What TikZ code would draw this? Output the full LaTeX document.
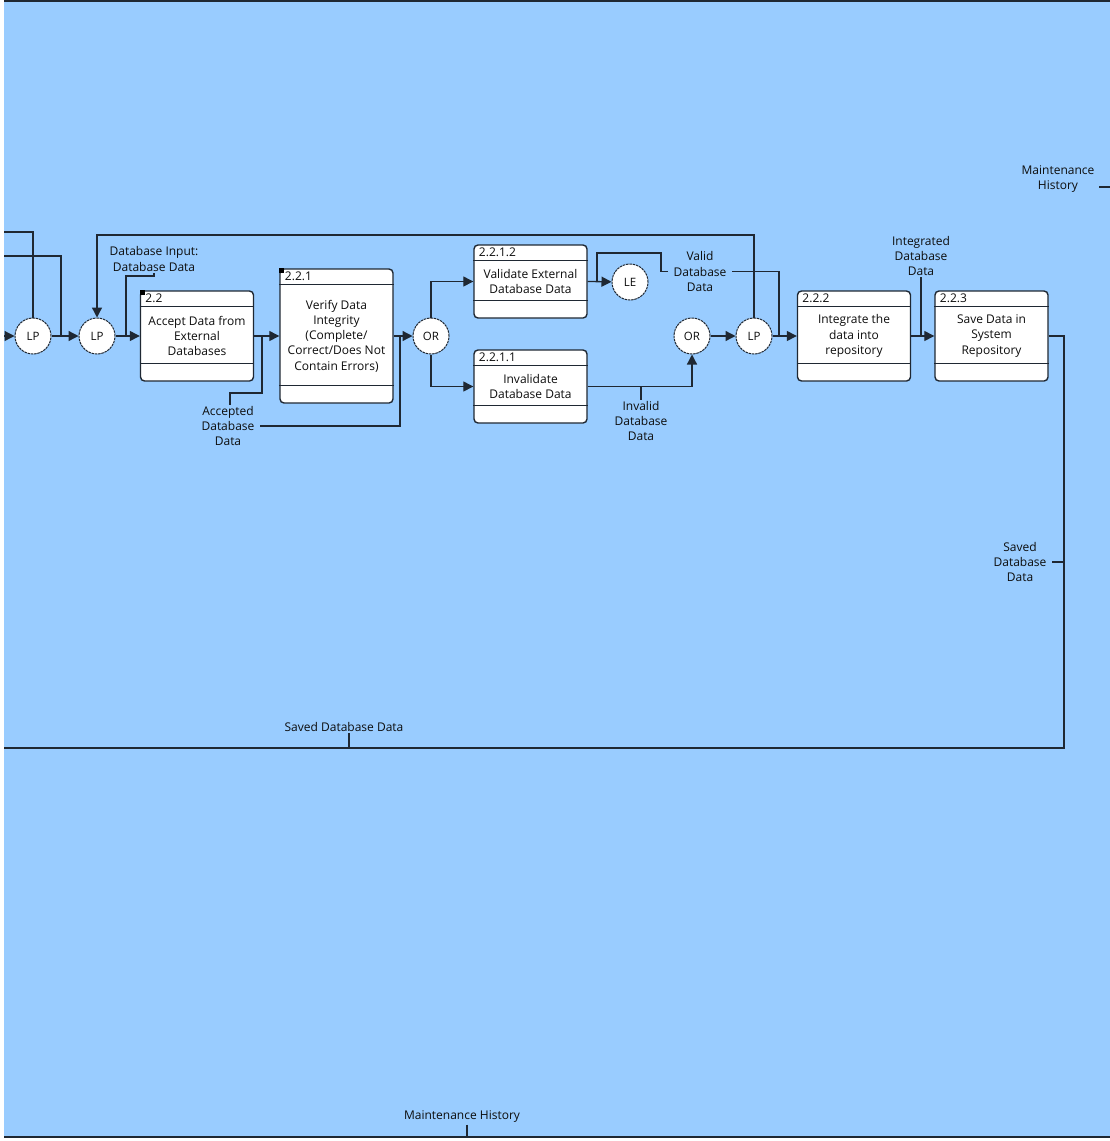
\documentclass[tikz,border=0pt]{standalone}
\usepackage{fontspec}
\setmainfont{Open Sans}
\usetikzlibrary{arrows.meta, positioning}
\definecolor{cbg}{HTML}{99CCFF}
\definecolor{cline}{HTML}{1F2833}
\definecolor{ctext}{HTML}{0D0D0D}
\tikzset{
  every picture/.style={font=\fontsize{12}{15.2}\selectfont, line width=1.3pt},
  proc/.style={draw=cline, fill=white, rounded corners=4pt, align=center, inner sep=0pt, minimum width=113pt, text=ctext, line width=1.4pt},
  junc/.style={circle, draw=cline, fill=white, minimum size=36pt, inner sep=0pt, dash pattern=on 2.5pt off 0.8pt, line width=1pt, text=ctext, font=\fontsize{11.5}{13}\selectfont},
  flow/.style={-{Triangle[length=10pt, width=10pt]}, draw=cline},
  wire/.style={draw=cline},
  lbl/.style={align=center, inner ysep=1pt, inner xsep=5pt, text=ctext},
}
\begin{document}
\begin{tikzpicture}[x=1pt, y=-1pt]
  \newcommand{\procbox}[5]{%
    \node[proc, minimum height=#3] (#1) at #2 {#5};
    \draw[wire, line width=1pt] ([yshift=-16pt]#1.north west) -- ([yshift=-16pt]#1.north east);
    \draw[wire, line width=1pt] ([yshift=18pt]#1.south west) -- ([yshift=18pt]#1.south east);
    \node[lbl, inner sep=0pt, anchor=base west] at ([xshift=5pt, yshift=-12.5pt]#1.north west) {#4};
  }
  \useasboundingbox (0,0) rectangle (1110,1141);

  % frame
  \fill[cbg] (4,0) rectangle (1110,1138);
  \draw[wire, line width=1.8pt] (4,0.9) -- (1110,0.9);
  \draw[wire, line width=1.8pt] (4,1137) -- (1110,1137);

  % junctions
  \node[junc] (lp1) at (33,336)  {LP};
  \node[junc] (lp2) at (97,336)  {LP};
  \node[junc] (or1) at (431,336) {OR};
  \node[junc] (le)  at (630,282) {LE};
  \node[junc] (or2) at (692,336) {OR};
  \node[junc] (lp3) at (754,336) {LP};

  % activities
  \procbox{b22}{(197,336)}{90pt}{2.2}{Accept Data from\\External\\Databases}
  \procbox{b221}{(336.5,336)}{134pt}{2.2.1}{Verify Data\\Integrity\\(Complete/\\Correct/Does Not\\Contain Errors)}
  \procbox{b2212}{(530.5,281.5)}{73pt}{2.2.1.2}{Validate External\\Database Data}
  \procbox{b2211}{(530.5,386.5)}{73pt}{2.2.1.1}{Invalidate\\Database Data}
  \procbox{b222}{(854,336)}{90pt}{2.2.2}{Integrate the\\data into\\repository}
  \procbox{b223}{(991.5,336)}{90pt}{2.2.3}{Save Data in\\System\\Repository}
  % decomposed marks
  \fill[black] (b22.north west) rectangle ++(5,5);
  \fill[black] (b221.north west) rectangle ++(5,5);

  % arrow labels
  \node[lbl] (dbin) at (154,259)    {Database Input:\\Database Data};
  \node[lbl] (acc)  at (228,426)    {Accepted\\Database\\Data};
  \node[lbl] (val)  at (700,271.5)  {Valid\\Database\\Data};
  \node[lbl] (inv)  at (641,421)    {Invalid\\Database\\Data};
  \node[lbl] (intg) at (921,256)    {Integrated\\Database\\Data};
  \node[lbl] (sav1) at (1020,562)   {Saved\\Database\\Data};
  \node[lbl] (sav2) at (344,727)    {Saved Database Data};
  \node[lbl] (mh1)  at (1058,179)   {Maintenance\\History};
  \node[lbl] (mh2)  at (462,1117)   {Maintenance History};

  \coordinate (inA)  at (4,232);
  \coordinate (inB)  at (4,256);
  \coordinate (inC)  at (4,336);
  \coordinate (jB)   at (61,336);
  \coordinate (jIn)  at (126,336);
  \coordinate (jAcc) at (262,336);
  \coordinate (jOr)  at (400,336);
  \coordinate (jVal) at (597,282);
  \coordinate (jInt) at (779,336);
  \coordinate (loop) at (0,235);
  \coordinate (rc)   at (1064,336);
  \coordinate (outL) at (4,748);
  \coordinate (botl) at (4,1137);
  \coordinate (mhL)  at (1099,187);
  \coordinate (mhR)  at (1110,187);

  % incoming
  \draw[flow] (inC) -- (lp1);
  \draw[wire] (inA) -| (lp1.north);
  \draw[wire] (inB) -| (jB);
  \draw[flow] (lp1) -- (lp2);
  \draw[flow] (lp3.north) -- (lp3 |- loop) -| (lp2.north);
  \draw[flow] (lp2) -- (b22);
  \draw[wire] (dbin.south) -- ++(0,3) -| (jIn);

  % verify
  \draw[flow] (b22) -- (b221);
  \draw[wire] (jAcc) -- ++(0,57) -| ([xshift=2pt]acc.north);
  \draw[wire] (acc.east) -| (jOr);
  \draw[flow] (b221) -- (or1);
  \draw[flow] (or1.north) |- (b2212.west);
  \draw[flow] (or1.south) |- (b2211.west);

  % validate / invalidate
  \draw[flow] (b2212.east) -- (le);
  \draw[wire] (jVal) |- (661,253) |- (val.west);
  \draw[wire] (val.east) -| (jInt);
  \draw[flow] (b2211.east) -| (or2.south);
  \draw[wire] (inv.north) -- (inv |- b2211.east);
  \draw[flow] (or2) -- (lp3);

  % integrate and save
  \draw[flow] (lp3) -- (b222);
  \draw[flow] (b222) -- (b223);
  \draw[wire] (intg.south) -- (intg |- b222.east);
  \draw[wire] (b223.east) -- (rc) |- (outL);
  \draw[wire] (sav1.east) -- (sav1.east -| rc);
  \draw[wire] ([xshift=5pt]sav2.south) -- ([xshift=5pt]sav2.south |- outL);
  \draw[wire] (mhL) -- (mhR);
  \draw[wire] ([xshift=5pt]mh2.south) -- ([xshift=5pt]mh2.south |- botl);
\end{tikzpicture}
\end{document}
